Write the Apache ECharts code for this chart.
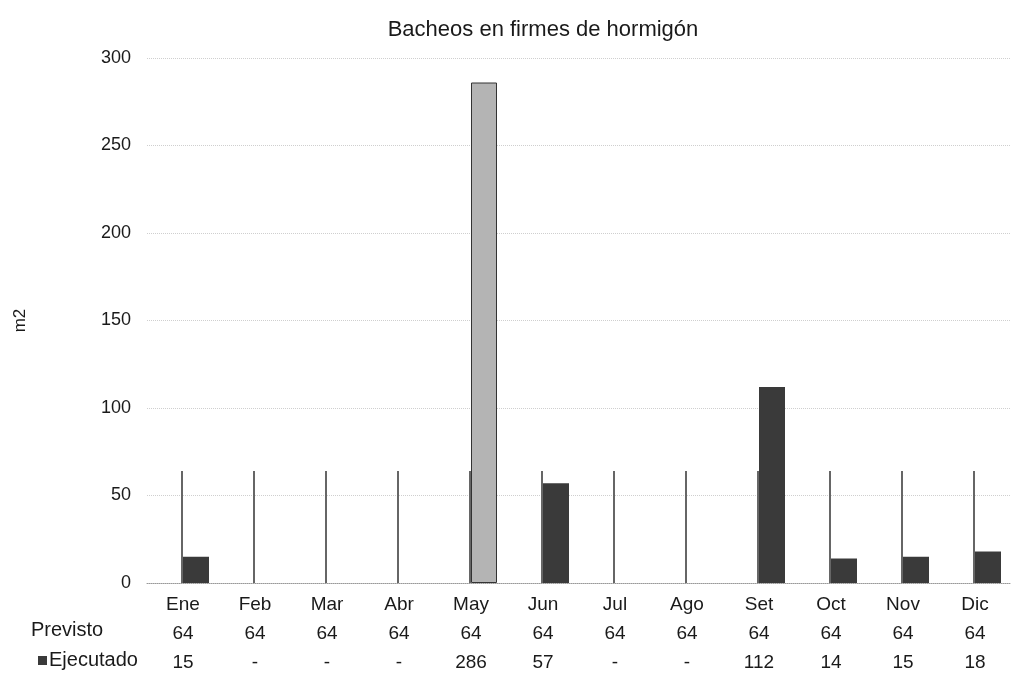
<!DOCTYPE html>
<html>
<head>
    <meta charset="utf-8">
    <title>Bacheos en firmes de hormigón</title>
    <script src="https://cdn.jsdelivr.net/npm/echarts@6/dist/echarts.min.js"></script>
    <style>
        html, body { margin: 0; padding: 0; background: #fff; }
        #mychart { width: 1015px; height: 696px; }
    </style>
</head>
<body>
<div id="mychart"></div>
<script>
    // datos
    var meses = ['Ene', 'Feb', 'Mar', 'Abr', 'May', 'Jun', 'Jul', 'Ago', 'Set', 'Oct', 'Nov', 'Dic'];
    var previsto = [64, 64, 64, 64, 64, 64, 64, 64, 64, 64, 64, 64];
    var ejecutado = [15, null, null, null, 286, 57, null, null, 112, 14, 15, 18];
    var yTicks = [0, 50, 100, 150, 200, 250, 300];

    var fontFam = '"Liberation Sans", Arial, sans-serif';

    // la barra de mayo sale mas clara en el original
    var ejecData = ejecutado.map(function (v, i) {
        if (i === 4) {
            return {value: v, itemStyle: {color: '#b4b4b4', borderColor: '#333', borderWidth: 1}};
        }
        return v;
    });

    var myChart = echarts.init(document.getElementById('mychart'));
    var option = {
        backgroundColor: '#fff',
        animation: false,
        title: {
            text: 'Bacheos en firmes de hormigón',
            left: 538,
            textAlign: 'center',
            top: 14,
            textStyle: {fontFamily: fontFam, fontSize: 22, fontWeight: 'normal', color: '#1a1a1a'}
        },
        grid: {left: 147, right: 4, top: 58, bottom: 113},
        xAxis: {
            type: 'category',
            data: meses,
            axisTick: {show: false},
            axisLine: {lineStyle: {color: '#999', type: 'dotted'}},
            axisLabel: {
                interval: 0,
                margin: 7,
                fontFamily: fontFam,
                fontSize: 19,
                color: '#1a1a1a',
                lineHeight: 29,
                formatter: function (val, idx) {
                    var e = ejecutado[idx] == null ? '-' : ejecutado[idx];
                    return val + '\n' + previsto[idx] + '\n' + e;
                }
            }
        },
        yAxis: {
            type: 'value',
            min: yTicks[0],
            max: yTicks[yTicks.length - 1],
            interval: 50,
            name: 'm2',
            nameLocation: 'middle',
            nameRotate: 90,
            nameGap: 118,
            nameTextStyle: {fontFamily: fontFam, fontSize: 17, color: '#1a1a1a'},
            axisLine: {show: false},
            axisTick: {show: false},
            axisLabel: {fontFamily: fontFam, fontSize: 18, color: '#1a1a1a', margin: 16},
            splitLine: {lineStyle: {color: '#cfcfcf', type: 'dotted'}}
        },
        series: [
            {
                name: 'Previsto',
                type: 'bar',
                barWidth: 26,
                barGap: '0%',
                data: previsto,
                itemStyle: {
                    // solo se ve el borde derecho de la barra
                    color: {
                        type: 'linear', x: 0, y: 0, x2: 1, y2: 0,
                        colorStops: [
                            {offset: 0, color: 'rgba(0,0,0,0)'},
                            {offset: 0.93, color: 'rgba(0,0,0,0)'},
                            {offset: 0.93, color: '#666'},
                            {offset: 1, color: '#666'}
                        ]
                    }
                }
            },
            {
                name: 'Ejecutado',
                type: 'bar',
                barWidth: 26,
                data: ejecData,
                itemStyle: {color: '#3a3a3a'}
            }
        ],
        graphic: [
            {
                type: 'text', left: 31, top: 620,
                style: {text: 'Previsto', font: '20px ' + fontFam, fill: '#1a1a1a'}
            },
            {
                type: 'rect', left: 38, top: 656,
                shape: {width: 9, height: 9},
                style: {fill: '#3a3a3a'}
            },
            {
                type: 'text', left: 49, top: 650,
                style: {text: 'Ejecutado', font: '20px ' + fontFam, fill: '#1a1a1a'}
            }
        ]
    };
    myChart.setOption(option);
</script>
</body>
</html>
